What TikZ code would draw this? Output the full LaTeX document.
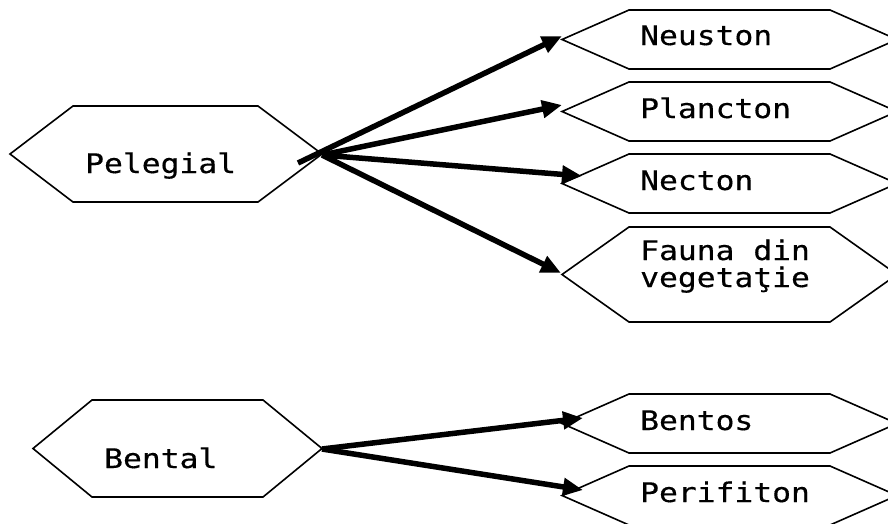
\documentclass[tikz,border=0pt]{standalone}
\usepackage{fontspec}
\newfontfamily\hexfont[FakeStretch=1.16,FakeBold=0.4]{DejaVu Sans Mono}
\usetikzlibrary{arrows.meta}
\tikzset{
  hexline/.style={draw=black, line width=1.6pt, line join=miter},
  lbl/.style={anchor=base west, inner sep=0pt, font=\hexfont\fontsize{27}{23}\selectfont, align=left},
  arr/.style={line width=5.5pt, -{Triangle[length=20pt,width=17pt]}}
}
% \hexpath{name}{xl}{xtl}{xtr}{xr}{ytop}{ybot}
\newcommand\hexpath[7]{%
  \draw[hexline] (#2,{(#6+#7)/2}) -- (#3,#6) -- (#4,#6) -- (#5,{(#6+#7)/2}) -- (#4,#7) -- (#3,#7) -- cycle;
  \coordinate (#1-w) at (#2,{(#6+#7)/2});
  \coordinate (#1-e) at (#5,{(#6+#7)/2});
}
\begin{document}
\begin{tikzpicture}[x=1pt,y=-1pt]
\useasboundingbox (0,0) rectangle (888,523);
% hexagons
\hexpath{pelhex}{10}{73}{258}{322}{106}{202}
\hexpath{benhex}{33}{92}{263}{322}{400}{497}
\hexpath{neuhex}{562}{629}{830}{897}{10}{69}
\hexpath{plahex}{562}{629}{830}{897}{82}{141}
\hexpath{nechex}{562}{629}{830}{897}{154}{213}
\hexpath{fauhex}{562}{629}{830}{897}{227}{322}
\hexpath{bnthex}{562}{629}{830}{897}{394}{453}
\hexpath{perhex}{562}{629}{830}{897}{466}{525}
% labels
\node[lbl] (pel) at (85,173) {Pelegial};
\node[lbl] (ben) at (104,468) {Bental};
\node[lbl] (neu) at (640,45) {Neuston};
\node[lbl] (pla) at (640,118) {Plancton};
\node[lbl] (nec) at (640,190) {Necton};
\node[lbl] (fau) at (640,287) {Fauna din\\[4pt]vegetaţie};
\node[lbl] (bnt) at (640,430) {Bentos};
\node[lbl] (per) at (640,502) {Perifiton};
% connector end points
\coordinate (pelsrc) at (322,155);
\coordinate (pelsrcb) at (298,163);
\coordinate (bensrc) at (322,449);
\coordinate (neutip) at (562,36);
\coordinate (platip) at (562,105);
\coordinate (nectip) at (582,176);
\coordinate (fautip) at (561,273);
\coordinate (bnttip) at (583,418);
\coordinate (pertip) at (583,490);
% arrows
\draw[arr] (pelsrcb) -- (neutip);
\draw[arr] (pelsrc) -- (platip);
\draw[arr] (pelsrc) -- (nectip);
\draw[arr] (pelsrc) -- (fautip);
\draw[arr] (bensrc) -- (bnttip);
\draw[arr] (bensrc) -- (pertip);
\end{tikzpicture}
\end{document}
